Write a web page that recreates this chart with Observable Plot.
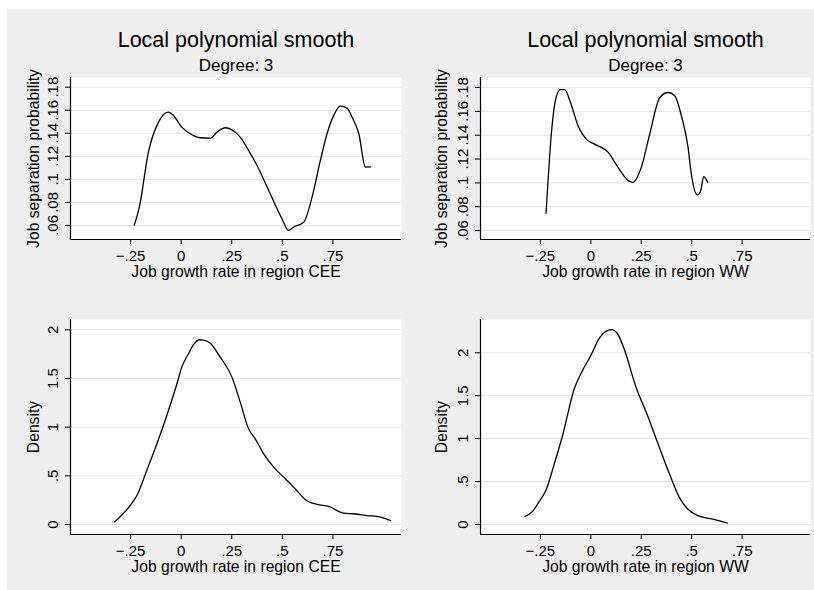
<!DOCTYPE html>
<html><head><meta charset="utf-8">
<script src="https://cdn.jsdelivr.net/npm/d3@7"></script>
<script src="https://cdn.jsdelivr.net/npm/@observablehq/plot@0.6"></script>
<style>
html,body{margin:0;padding:0;background:#fff;}
#page{position:relative;width:814px;height:590px;overflow:hidden;font-family:"Liberation Sans",Arial,sans-serif;}
#bg{position:absolute;left:7px;top:9px;width:807px;height:581px;background:#efefef;}
.panel{position:absolute;}
</style></head><body><div id="page"><div id="bg"></div></div>
<script>
// Tick values and labels
const xTicks = [-0.25, 0, 0.25, 0.5, 0.75];
const xTickLabels = ["−.25", "0", ".25", ".5", ".75"];
const sepTicks = [0.06, 0.08, 0.10, 0.12, 0.14, 0.16, 0.18];
const sepTickLabels = [".06", ".08", ".1", ".12", ".14", ".16", ".18"];
const densTicks = [0, 0.5, 1, 1.5, 2];
const densTickLabels = ["0", ".5", "1", "1.5", "2"];

// Top-left: local polynomial smooth, CEE
const ceeSmoothX = [-0.232,-0.206,-0.162,-0.112,-0.064,-0.038,0.003,0.045,0.094,0.144,0.177,0.218,0.251,0.292,0.333,0.375,0.416,0.44,0.498,0.531,0.556,0.606,0.647,0.688,0.721,0.754,0.787,0.82,0.845,0.878,0.911,0.936];
const ceeSmoothY = [0.060,0.0765,0.1236,0.1497,0.1584,0.1555,0.1453,0.1396,0.1361,0.1358,0.141,0.1448,0.143,0.1367,0.1251,0.112,0.0967,0.0875,0.0658,0.0557,0.0586,0.0629,0.0846,0.1164,0.1396,0.1555,0.1635,0.1618,0.154,0.1396,0.1107,0.1108];

// Top-right: local polynomial smooth, WW
const wwSmoothX = [-0.222,-0.193,-0.176,-0.152,-0.130,-0.100,-0.062,-0.022,0.011,0.086,0.135,0.185,0.209,0.25,0.292,0.342,0.383,0.416,0.449,0.482,0.498,0.528,0.545,0.559,0.579];
const wwSmoothY = [0.0745,0.1465,0.1688,0.1782,0.1782,0.167,0.1472,0.1365,0.1331,0.1256,0.113,0.1019,0.1005,0.113,0.141,0.1716,0.1758,0.1731,0.1563,0.1298,0.1075,0.0899,0.0935,0.1052,0.1005];

// Bottom-left: density, CEE
const ceeDensX = [-0.33,-0.252,-0.219,-0.17,-0.12,-0.071,-0.021,0.003,0.036,0.061,0.091,0.11,0.144,0.193,0.251,0.292,0.333,0.366,0.408,0.457,0.507,0.556,0.619,0.672,0.729,0.804,0.853,0.919,0.985,1.035];
const ceeDensY = [0.024,0.195,0.298,0.555,0.829,1.12,1.446,1.617,1.754,1.847,1.898,1.895,1.863,1.72,1.514,1.257,0.983,0.88,0.726,0.589,0.486,0.384,0.247,0.206,0.185,0.116,0.11,0.092,0.075,0.041];

// Bottom-right: density, WW
const wwDensX = [-0.327,-0.289,-0.256,-0.223,-0.181,-0.14,-0.082,-0.041,0,0.041,0.074,0.102,0.132,0.165,0.221,0.281,0.33,0.396,0.438,0.479,0.528,0.611,0.677];
const wwDensY = [0.093,0.152,0.268,0.396,0.707,1.037,1.581,1.795,1.97,2.164,2.25,2.269,2.222,2.047,1.62,1.27,0.96,0.552,0.319,0.183,0.105,0.058,0.016];

const titleText = "Local polynomial smooth";
const subtitleText = "Degree: 3";
const sepLabel = "Job separation probability";
const densLabel = "Density";
const xLabelCEE = "Job growth rate in region CEE";
const xLabelWW = "Job growth rate in region WW";

const FONT = "'Liberation Sans', Arial, Helvetica, sans-serif";
const xDomain = [-0.547, 1.089];

function panel(o) {
  const data = o.xs.map((x, i) => ({x, y: o.ys[i]}));
  const marks = [
    Plot.frame({fill: "white", stroke: "none"}),
    Plot.gridY(o.yTicks, {stroke: "#e4e4e4", strokeOpacity: 1, strokeWidth: 1}),
    Plot.line(data, {x: "x", y: "y", stroke: "black", strokeWidth: 1.3, curve: "monotone-x"}),
    Plot.ruleY([o.yDomain[0]], {stroke: "black", strokeWidth: 1.2}),
    Plot.ruleX([xDomain[0]], {stroke: "black", strokeWidth: 1.2}),
    Plot.axisX(xTicks, {
      tickSize: 5, tickPadding: 5.5, fontSize: 15,
      tickFormat: d => xTickLabels[xTicks.indexOf(d)],
      label: null
    }),
    Plot.axisY(o.yTicks, {
      tickSize: 5, tickPadding: 8, tickRotate: -90, fontSize: 15,
      tickFormat: d => o.yTickLabels[o.yTicks.indexOf(d)],
      label: null
    }),
    Plot.text([o.xlabel], {frameAnchor: "bottom", dy: 37.5, lineAnchor: "bottom", textAnchor: "middle", fontSize: 15.7, fill: "black", text: d => d}),
    Plot.text([o.ylabel], {frameAnchor: "left", dx: -o.labelOffsetY, rotate: -90, lineAnchor: "top", textAnchor: "middle", fontSize: 15.7, fill: "black", text: d => d})
  ];
  if (o.title) {
    marks.push(Plot.text([o.title], {frameAnchor: "top", dy: -31, lineAnchor: "bottom", textAnchor: "middle", fontSize: 21.5, fill: "black", text: d => d}));
    marks.push(Plot.text([o.subtitle], {frameAnchor: "top", dy: -7, lineAnchor: "bottom", textAnchor: "middle", fontSize: 17, fill: "black", text: d => d}));
  }
  const svg = Plot.plot({
    width: 407, height: 295,
    marginLeft: o.mL, marginRight: o.mR, marginTop: o.mT, marginBottom: 56,
    x: {domain: xDomain},
    y: {domain: o.yDomain},
    style: {background: "transparent", fontFamily: FONT, color: "black", overflow: "visible"},
    marks
  });
  svg.classList.add("panel");
  svg.style.left = o.left + "px";
  svg.style.top = o.top + "px";
  svg.style.maxWidth = "none";
  document.getElementById("page").appendChild(svg);
}

panel({xs: ceeSmoothX, ys: ceeSmoothY, yTicks: sepTicks, yTickLabels: sepTickLabels,
  yDomain: [0.0478, 0.1884], ylabel: sepLabel, xlabel: xLabelCEE, title: titleText, subtitle: subtitleText,
  left: 0, top: 0, mL: 70, mR: 6, mT: 77, labelOffsetY: 43});
panel({xs: wwSmoothX, ys: wwSmoothY, yTicks: sepTicks, yTickLabels: sepTickLabels,
  yDomain: [0.0525, 0.1884], ylabel: sepLabel, xlabel: xLabelWW, title: titleText, subtitle: subtitleText,
  left: 407, top: 0, mL: 73, mR: 4, mT: 77, labelOffsetY: 45});
panel({xs: ceeDensX, ys: ceeDensY, yTicks: densTicks, yTickLabels: densTickLabels,
  yDomain: [-0.103, 2.106], ylabel: densLabel, xlabel: xLabelCEE,
  left: 0, top: 295, mL: 70, mR: 6, mT: 24, labelOffsetY: 43});
panel({xs: wwDensX, ys: wwDensY, yTicks: densTicks, yTickLabels: densTickLabels,
  yDomain: [-0.117, 2.388], ylabel: densLabel, xlabel: xLabelWW,
  left: 407, top: 295, mL: 73, mR: 4, mT: 24, labelOffsetY: 45});
</script></body></html>
